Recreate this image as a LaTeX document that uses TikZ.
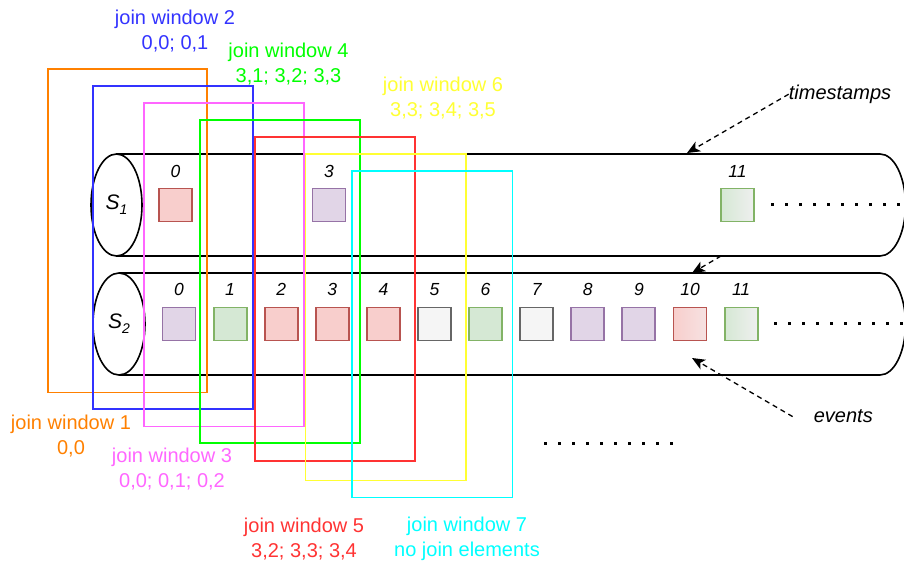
\documentclass[tikz,border=0pt]{standalone}
\usepackage{fontspec}
\setmainfont{Liberation Sans}
\usetikzlibrary{arrows.meta,shapes.geometric}
\definecolor{cOr}{HTML}{FF8000}
\definecolor{cBl}{HTML}{3333FF}
\definecolor{cPk}{HTML}{FF66FF}
\definecolor{cGn}{HTML}{00FF00}
\definecolor{cRd}{HTML}{FF3333}
\definecolor{cYe}{HTML}{FFFF33}
\definecolor{cCy}{HTML}{00FFFF}
\definecolor{puF}{HTML}{E1D5E7}\definecolor{puS}{HTML}{9673A6}
\definecolor{gnF}{HTML}{D5E8D4}\definecolor{gnS}{HTML}{82B366}
\definecolor{rdF}{HTML}{F8CECC}\definecolor{rdS}{HTML}{B85450}
\definecolor{gyF}{HTML}{F5F5F5}\definecolor{gyS}{HTML}{666666}
\definecolor{gnE}{HTML}{EFEFEF}\definecolor{rdE}{HTML}{F6E2E2}
\begin{document}
\begin{tikzpicture}[x=1pt,y=-1pt,
  cyl/.style={draw=black, fill=white, line width=1.6pt},
  cend/.style={ellipse, draw=black, fill=white, line width=1.6pt, inner sep=0pt,
    font=\fontsize{21}{21}\selectfont\itshape},
  sq/.style={draw, line width=1.9pt, minimum size=33pt, inner sep=0pt},
  pu/.style={sq, fill=puF, draw=puS},
  gn/.style={sq, fill=gnF, draw=gnS},
  rd/.style={sq, fill=rdF, draw=rdS},
  gy/.style={sq, fill=gyF, draw=gyS},
  num/.style={font=\fontsize{17.5}{20}\selectfont\itshape, inner sep=0pt},
  dots/.style={line width=3pt, dash pattern=on 3pt off 11pt},
  arr/.style={dash pattern=on 5pt off 4pt, line width=1.3pt,
    -{Stealth[length=13pt,width=11pt,inset=3.5pt]}},
  win/.style={draw=#1, line width=1.8pt},
  lbl/.style={font=\fontsize{20}{25}\selectfont, align=center, inner sep=0pt, text=#1},
  note/.style={font=\fontsize{20}{24}\selectfont\itshape, inner sep=0pt}]
\useasboundingbox (0,0) rectangle (904,565);
\clip (0,0) rectangle (904,565);

% stream S1
\draw[cyl] (116.5,154) -- (880,154) .. controls (894.08,154) and (905.5,176.83) .. (905.5,205)
  .. controls (905.5,233.17) and (894.08,256) .. (880,256) -- (116.5,256);
\node[cend, minimum width=51pt, minimum height=102pt] (s1) at (116.5,205)
  {S\raisebox{-5pt}{\fontsize{14}{14}\selectfont 1}};
% stream S2
\draw[cyl] (119,273) -- (880,273) .. controls (894.08,273) and (905.5,295.83) .. (905.5,324)
  .. controls (905.5,352.17) and (894.08,375) .. (880,375) -- (119,375);
\node[cend, minimum width=52pt, minimum height=102pt] (s2) at (119,324)
  {S\raisebox{-5pt}{\fontsize{14}{14}\selectfont 2}};

% S1 events
\node[rd] (a0) at (175.5,205) {};
\node[pu] (a3) at (329,205) {};
\node[sq, draw=gnS, left color=gnF, right color=gnE] (a11) at (737.5,205) {};
\node[num] (ta0) at (175.5,171) {0};
\node[num] (ta3) at (329,171) {3};
\node[num] (ta11) at (737.5,171) {11};

% S2 events
\node[pu] (b0) at (179,324) {};
\node[gn] (b1) at (230.1,324) {};
\node[rd] (b2) at (281.2,324) {};
\node[rd] (b3) at (332.3,324) {};
\node[rd] (b4) at (383.4,324) {};
\node[gy] (b5) at (434.5,324) {};
\node[gn] (b6) at (485.6,324) {};
\node[gy] (b7) at (536.7,324) {};
\node[pu] (b8) at (587.8,324) {};
\node[pu] (b9) at (638.9,324) {};
\node[sq, draw=rdS, left color=rdF, right color=rdE] (b10) at (690,324) {};
\node[sq, draw=gnS, left color=gnF, right color=gnE] (b11) at (741.1,324) {};
\foreach \i/\x in {0/179,1/230.1,2/281.2,3/332.3,4/383.4,5/434.5,6/485.6,7/536.7,8/587.8,9/638.9,10/690,11/741.1}
  \node[num] (tb\i) at (\x,289.5) {\i};

% continuation dots
\coordinate (d1a) at (771,204); \coordinate (d1b) at (912,204);
\coordinate (d2a) at (774,323); \coordinate (d2b) at (912,323);
\coordinate (d3a) at (544,443); \coordinate (d3b) at (673,443);
\draw[dots] (d1a) -- (d1b);
\draw[dots] (d2a) -- (d2b);
\draw[dots] (d3a) -- (d3b);

% annotations
\node[note] (ts) at (840,94.2) {timestamps};
\node[note] (ev) at (843.3,416.6) {events};
\coordinate (tstip) at (687,153);
\coordinate (s1low) at (721,256);
\coordinate (s2tip) at (692,273);
\coordinate (evtip) at (692,358);
\draw[arr] (ts.west) -- (tstip);
\draw[arr] (s1low) -- (s2tip);
\draw[arr] ([xshift=-21pt]ev.west) -- (evtip);

% join windows
\draw[win=cOr] (48,69) rectangle (207,392.5);
\draw[win=cBl] (93,86) rectangle (253,409);
\draw[win=cPk] (144,103) rectangle (304,426.5);
\draw[win=cGn] (200,120) rectangle (360,443);
\draw[win=cRd] (255,137) rectangle (415,461);
\draw[win=cYe] (305.5,154) rectangle (466,480.5);
\draw[win=cCy] (352,171) rectangle (512.5,497.5);

% window labels
\node[lbl=cOr] (l1) at (71,436.5) {join window 1\\0,0};
\node[lbl=cBl] (l2) at (175,31) {join window 2\\0,0; 0,1};
\node[lbl=cPk] (l3) at (172,469.5) {join window 3\\0,0; 0,1; 0,2};
\node[lbl=cGn] (l4) at (288.5,64.5) {join window 4\\3,1; 3,2; 3,3};
\node[lbl=cRd] (l5) at (304,539) {join window 5\\3,2; 3,3; 3,4};
\node[lbl=cYe] (l6) at (443,98.5) {join window 6\\3,3; 3,4; 3,5};
\node[lbl=cCy] (l7) at (467,539) {join window 7\\no join elements};
\end{tikzpicture}
\end{document}
